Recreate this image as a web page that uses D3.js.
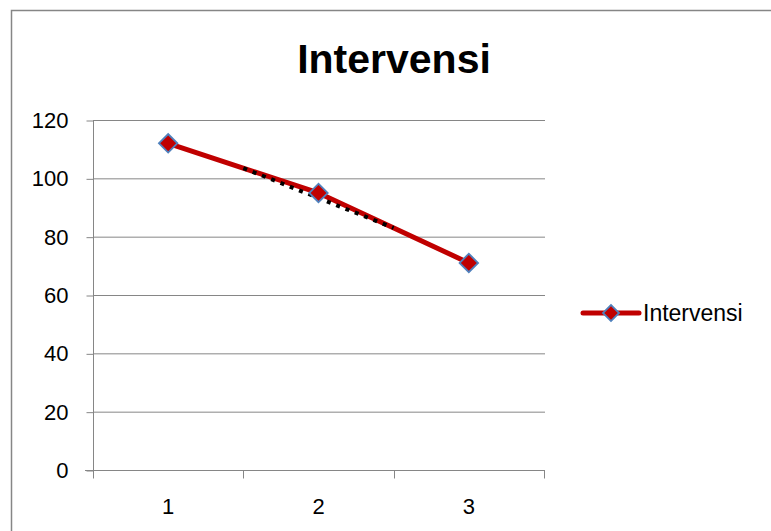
<!DOCTYPE html>
<html><head><meta charset="utf-8">
<script src="https://cdn.jsdelivr.net/npm/d3@7"></script>
<style>body{margin:0;background:#fff}svg{display:block}</style>
</head><body>
<svg id="c" width="771" height="531"></svg>
<script>
const categories = ["1", "2", "3"];
const values = [112, 95, 71];
const trendX = [1.5, 2.5];
const trendValues = [103.5, 83];
const yTicks = [0, 20, 40, 60, 80, 100, 120];
const seriesName = "Intervensi";
const titleText = "Intervensi";

const svg = d3.select("#c");
const gray = "#868686";
const red = "#C00000";
const blue = "#4F81BD";
const font = "'Liberation Sans', Arial, sans-serif";

svg.append("rect").attr("x", 11.5).attr("y", 10.5).attr("width", 800).attr("height", 600)
  .attr("fill", "#fff").attr("stroke", gray).attr("stroke-width", 1.5);

const x0 = 93, x1 = 544, yTop = 120, yBot = 470;
const x = d3.scaleBand().domain(categories).range([x0, x1]);
const xc = d => x(d) + x.bandwidth() / 2;
const xl = d3.scaleLinear().domain([1, 3]).range([xc("1"), xc("3")]);
const y = d3.scaleLinear().domain([0, 120]).range([yBot, yTop]);

// gridlines
svg.append("g").selectAll("line").data(yTicks.filter(v => v > 0)).join("line")
  .attr("x1", x0).attr("x2", x1 + 1).attr("y1", d => y(d) + 0.5).attr("y2", d => y(d) + 0.5)
  .attr("stroke", gray).attr("stroke-width", 1);

// y axis
const yAxis = svg.append("g").attr("transform", `translate(${x0 + 0.5},0.5)`)
  .call(d3.axisLeft(y).tickValues(yTicks).tickSize(7).tickSizeOuter(0).tickPadding(18));
yAxis.select(".domain").attr("stroke", gray).attr("d", `M0,${yTop}V${yBot + 8}`);
yAxis.selectAll(".tick line").attr("stroke", gray);
yAxis.selectAll("text").attr("font-family", font).attr("font-size", 22).attr("fill", "#000");

// x axis
const xAxis = svg.append("g").attr("transform", `translate(0,${yBot + 0.5})`);
xAxis.append("line").attr("x1", x0 - 8).attr("x2", x1 + 1).attr("stroke", gray);
const bounds = categories.map(c => x(c)).concat([x1]);
xAxis.selectAll("line.tk").data(bounds.slice(1)).join("line").attr("class", "tk")
  .attr("x1", d => Math.round(d) + 0.5).attr("x2", d => Math.round(d) + 0.5)
  .attr("y1", 0).attr("y2", 8).attr("stroke", gray);
xAxis.selectAll("text").data(categories).join("text")
  .attr("x", d => xc(d)).attr("y", 43).attr("text-anchor", "middle")
  .attr("font-family", font).attr("font-size", 22).attr("fill", "#000").text(d => d);

// series line
const line = d3.line().x((d, i) => xc(categories[i])).y(d => y(d));
svg.append("path").datum(values).attr("d", line).attr("fill", "none")
  .attr("stroke", red).attr("stroke-width", 5).attr("stroke-linejoin", "round");

// trendline (dotted)
const tline = d3.line().x((d, i) => xl(trendX[i])).y(d => y(d));
svg.append("path").datum(trendValues).attr("d", tline).attr("fill", "none")
  .attr("stroke", "#000").attr("stroke-width", 4).attr("stroke-dasharray", "4,6");

// markers
const sq = d3.symbol().type(d3.symbolSquare).size(170);
svg.append("g").selectAll("path").data(values).join("path")
  .attr("transform", (d, i) => `translate(${xc(categories[i])},${y(d)}) rotate(45)`)
  .attr("d", sq).attr("fill", red).attr("stroke", blue).attr("stroke-width", 1.8);

// legend
const lg = svg.append("g").attr("transform", "translate(583,313)");
lg.append("line").attr("x1", 0).attr("x2", 56).attr("stroke", red).attr("stroke-width", 5).attr("stroke-linecap", "round");
lg.append("path").attr("d", d3.symbol().type(d3.symbolSquare).size(128)).attr("transform", "translate(28,0) rotate(45)")
  .attr("fill", red).attr("stroke", blue).attr("stroke-width", 1.8);
lg.append("text").attr("x", 60).attr("y", 8).attr("font-family", font).attr("font-size", 23)
  .attr("fill", "#000").text(seriesName);

// title
svg.append("text").attr("x", 394).attr("y", 73).attr("text-anchor", "middle")
  .attr("font-family", font).attr("font-weight", "bold").attr("font-size", 41).attr("fill", "#000")
  .text(titleText);
</script>
</body></html>
